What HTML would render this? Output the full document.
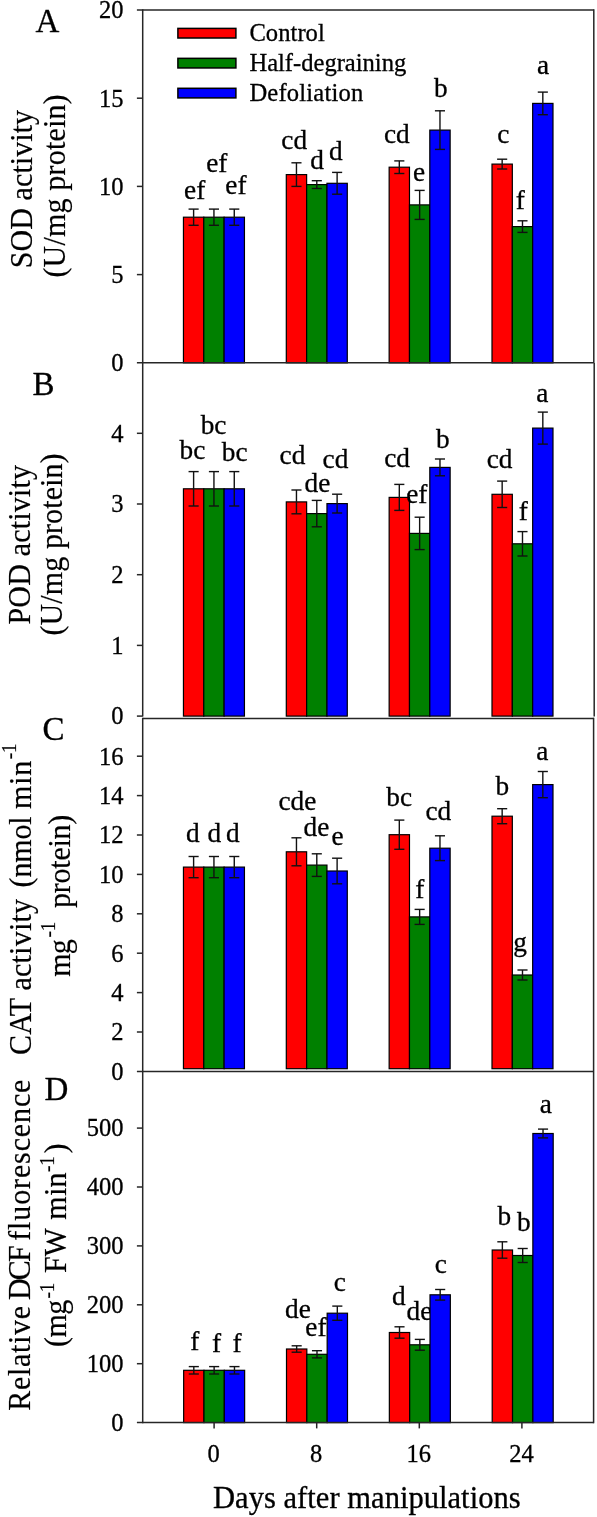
<!DOCTYPE html>
<html lang="en"><head><meta charset="utf-8"><title>Antioxidant enzyme activities and DCF fluorescence</title>
<style>html,body{margin:0;padding:0;background:#fff}svg{display:block}</style></head>
<body>
<svg width="597" height="1517" viewBox="0 0 597 1517" font-family="'Liberation Serif', 'Times New Roman', serif" fill="#000" stroke="#000" stroke-width="0" >
<rect width="597" height="1517" fill="#fff"/>
<g id="panelA">
<rect x="183.45" y="217.20" width="20.33" height="145.60" fill="#ff0000" stroke="#000" stroke-width="1.2"/>
<rect x="203.78" y="217.20" width="20.33" height="145.60" fill="#008000" stroke="#000" stroke-width="1.2"/>
<rect x="286.30" y="174.60" width="20.33" height="188.20" fill="#ff0000" stroke="#000" stroke-width="1.2"/>
<rect x="306.63" y="184.60" width="20.33" height="178.20" fill="#008000" stroke="#000" stroke-width="1.2"/>
<rect x="389.15" y="167.20" width="20.33" height="195.60" fill="#ff0000" stroke="#000" stroke-width="1.2"/>
<rect x="409.48" y="204.90" width="20.33" height="157.90" fill="#008000" stroke="#000" stroke-width="1.2"/>
<rect x="492.00" y="164.10" width="20.33" height="198.70" fill="#ff0000" stroke="#000" stroke-width="1.2"/>
<rect x="512.33" y="226.60" width="20.33" height="136.20" fill="#008000" stroke="#000" stroke-width="1.2"/>
<line x1="193.61" y1="209.10" x2="193.61" y2="225.30" stroke="#111" stroke-width="1.4" stroke-linecap="butt"/>
<line x1="188.56" y1="209.10" x2="198.66" y2="209.10" stroke="#111" stroke-width="1.4" stroke-linecap="butt"/>
<line x1="188.56" y1="225.30" x2="198.66" y2="225.30" stroke="#111" stroke-width="1.4" stroke-linecap="butt"/>
<line x1="213.94" y1="209.10" x2="213.94" y2="225.30" stroke="#111" stroke-width="1.4" stroke-linecap="butt"/>
<line x1="208.89" y1="209.10" x2="218.99" y2="209.10" stroke="#111" stroke-width="1.4" stroke-linecap="butt"/>
<line x1="208.89" y1="225.30" x2="218.99" y2="225.30" stroke="#111" stroke-width="1.4" stroke-linecap="butt"/>
<line x1="296.46" y1="162.80" x2="296.46" y2="186.40" stroke="#111" stroke-width="1.4" stroke-linecap="butt"/>
<line x1="291.41" y1="162.80" x2="301.51" y2="162.80" stroke="#111" stroke-width="1.4" stroke-linecap="butt"/>
<line x1="291.41" y1="186.40" x2="301.51" y2="186.40" stroke="#111" stroke-width="1.4" stroke-linecap="butt"/>
<line x1="316.79" y1="180.70" x2="316.79" y2="188.50" stroke="#111" stroke-width="1.4" stroke-linecap="butt"/>
<line x1="311.74" y1="180.70" x2="321.84" y2="180.70" stroke="#111" stroke-width="1.4" stroke-linecap="butt"/>
<line x1="311.74" y1="188.50" x2="321.84" y2="188.50" stroke="#111" stroke-width="1.4" stroke-linecap="butt"/>
<line x1="399.31" y1="160.90" x2="399.31" y2="173.50" stroke="#111" stroke-width="1.4" stroke-linecap="butt"/>
<line x1="394.26" y1="160.90" x2="404.37" y2="160.90" stroke="#111" stroke-width="1.4" stroke-linecap="butt"/>
<line x1="394.26" y1="173.50" x2="404.37" y2="173.50" stroke="#111" stroke-width="1.4" stroke-linecap="butt"/>
<line x1="419.64" y1="190.40" x2="419.64" y2="219.40" stroke="#111" stroke-width="1.4" stroke-linecap="butt"/>
<line x1="414.59" y1="190.40" x2="424.69" y2="190.40" stroke="#111" stroke-width="1.4" stroke-linecap="butt"/>
<line x1="414.59" y1="219.40" x2="424.69" y2="219.40" stroke="#111" stroke-width="1.4" stroke-linecap="butt"/>
<line x1="502.16" y1="159.20" x2="502.16" y2="169.00" stroke="#111" stroke-width="1.4" stroke-linecap="butt"/>
<line x1="497.11" y1="159.20" x2="507.21" y2="159.20" stroke="#111" stroke-width="1.4" stroke-linecap="butt"/>
<line x1="497.11" y1="169.00" x2="507.21" y2="169.00" stroke="#111" stroke-width="1.4" stroke-linecap="butt"/>
<line x1="522.49" y1="220.80" x2="522.49" y2="232.40" stroke="#111" stroke-width="1.4" stroke-linecap="butt"/>
<line x1="517.44" y1="220.80" x2="527.54" y2="220.80" stroke="#111" stroke-width="1.4" stroke-linecap="butt"/>
<line x1="517.44" y1="232.40" x2="527.54" y2="232.40" stroke="#111" stroke-width="1.4" stroke-linecap="butt"/>
<text x="194.67" y="199.20" font-size="27.3" text-anchor="middle" stroke-width="0.3">ef</text>
<text x="216.77" y="172.40" font-size="27.3" text-anchor="middle" stroke-width="0.3">ef</text>
<text x="235.97" y="193.80" font-size="27.3" text-anchor="middle" stroke-width="0.3">ef</text>
<text x="294.15" y="149.00" font-size="27.3" text-anchor="middle" stroke-width="0.3">cd</text>
<text x="317.17" y="168.70" font-size="27.3" text-anchor="middle" stroke-width="0.3">d</text>
<text x="335.87" y="159.90" font-size="27.3" text-anchor="middle" stroke-width="0.3">d</text>
<text x="396.85" y="143.10" font-size="27.3" text-anchor="middle" stroke-width="0.3">cd</text>
<text x="418.94" y="181.30" font-size="27.3" text-anchor="middle" stroke-width="0.3">e</text>
<text x="440.82" y="96.70" font-size="27.3" text-anchor="middle" stroke-width="0.3">b</text>
<text x="503.40" y="143.30" font-size="27.3" text-anchor="middle" stroke-width="0.3">c</text>
<text x="520.18" y="208.70" font-size="27.3" text-anchor="middle" stroke-width="0.3">f</text>
<text x="543.01" y="74.20" font-size="27.3" text-anchor="middle" stroke-width="0.3">a</text>
<rect x="224.11" y="217.20" width="20.33" height="145.60" fill="#0000ff" stroke="#000" stroke-width="1.2"/>
<rect x="326.96" y="183.30" width="20.33" height="179.50" fill="#0000ff" stroke="#000" stroke-width="1.2"/>
<rect x="429.81" y="130.10" width="20.33" height="232.70" fill="#0000ff" stroke="#000" stroke-width="1.2"/>
<rect x="532.66" y="103.40" width="20.33" height="259.40" fill="#0000ff" stroke="#000" stroke-width="1.2"/>
<line x1="234.27" y1="209.10" x2="234.27" y2="225.30" stroke="#111" stroke-width="1.4" stroke-linecap="butt"/>
<line x1="229.22" y1="209.10" x2="239.32" y2="209.10" stroke="#111" stroke-width="1.4" stroke-linecap="butt"/>
<line x1="229.22" y1="225.30" x2="239.32" y2="225.30" stroke="#111" stroke-width="1.4" stroke-linecap="butt"/>
<line x1="337.12" y1="172.40" x2="337.12" y2="194.20" stroke="#111" stroke-width="1.4" stroke-linecap="butt"/>
<line x1="332.07" y1="172.40" x2="342.17" y2="172.40" stroke="#111" stroke-width="1.4" stroke-linecap="butt"/>
<line x1="332.07" y1="194.20" x2="342.17" y2="194.20" stroke="#111" stroke-width="1.4" stroke-linecap="butt"/>
<line x1="439.97" y1="110.80" x2="439.97" y2="149.40" stroke="#111" stroke-width="1.4" stroke-linecap="butt"/>
<line x1="434.92" y1="110.80" x2="445.02" y2="110.80" stroke="#111" stroke-width="1.4" stroke-linecap="butt"/>
<line x1="434.92" y1="149.40" x2="445.02" y2="149.40" stroke="#111" stroke-width="1.4" stroke-linecap="butt"/>
<line x1="542.82" y1="92.10" x2="542.82" y2="114.70" stroke="#111" stroke-width="1.4" stroke-linecap="butt"/>
<line x1="537.77" y1="92.10" x2="547.87" y2="92.10" stroke="#111" stroke-width="1.4" stroke-linecap="butt"/>
<line x1="537.77" y1="114.70" x2="547.87" y2="114.70" stroke="#111" stroke-width="1.4" stroke-linecap="butt"/>
</g>
<g id="panelB">
<rect x="183.45" y="488.80" width="20.33" height="227.30" fill="#ff0000" stroke="#000" stroke-width="1.2"/>
<rect x="203.78" y="488.80" width="20.33" height="227.30" fill="#008000" stroke="#000" stroke-width="1.2"/>
<rect x="286.30" y="501.90" width="20.33" height="214.20" fill="#ff0000" stroke="#000" stroke-width="1.2"/>
<rect x="306.63" y="513.60" width="20.33" height="202.50" fill="#008000" stroke="#000" stroke-width="1.2"/>
<rect x="389.15" y="497.40" width="20.33" height="218.70" fill="#ff0000" stroke="#000" stroke-width="1.2"/>
<rect x="409.48" y="533.40" width="20.33" height="182.70" fill="#008000" stroke="#000" stroke-width="1.2"/>
<rect x="492.00" y="494.30" width="20.33" height="221.80" fill="#ff0000" stroke="#000" stroke-width="1.2"/>
<rect x="512.33" y="543.80" width="20.33" height="172.30" fill="#008000" stroke="#000" stroke-width="1.2"/>
<line x1="193.61" y1="471.60" x2="193.61" y2="506.00" stroke="#111" stroke-width="1.4" stroke-linecap="butt"/>
<line x1="188.56" y1="471.60" x2="198.66" y2="471.60" stroke="#111" stroke-width="1.4" stroke-linecap="butt"/>
<line x1="188.56" y1="506.00" x2="198.66" y2="506.00" stroke="#111" stroke-width="1.4" stroke-linecap="butt"/>
<line x1="213.94" y1="471.60" x2="213.94" y2="506.00" stroke="#111" stroke-width="1.4" stroke-linecap="butt"/>
<line x1="208.89" y1="471.60" x2="218.99" y2="471.60" stroke="#111" stroke-width="1.4" stroke-linecap="butt"/>
<line x1="208.89" y1="506.00" x2="218.99" y2="506.00" stroke="#111" stroke-width="1.4" stroke-linecap="butt"/>
<line x1="296.46" y1="490.00" x2="296.46" y2="513.80" stroke="#111" stroke-width="1.4" stroke-linecap="butt"/>
<line x1="291.41" y1="490.00" x2="301.51" y2="490.00" stroke="#111" stroke-width="1.4" stroke-linecap="butt"/>
<line x1="291.41" y1="513.80" x2="301.51" y2="513.80" stroke="#111" stroke-width="1.4" stroke-linecap="butt"/>
<line x1="316.79" y1="500.40" x2="316.79" y2="526.80" stroke="#111" stroke-width="1.4" stroke-linecap="butt"/>
<line x1="311.74" y1="500.40" x2="321.84" y2="500.40" stroke="#111" stroke-width="1.4" stroke-linecap="butt"/>
<line x1="311.74" y1="526.80" x2="321.84" y2="526.80" stroke="#111" stroke-width="1.4" stroke-linecap="butt"/>
<line x1="399.31" y1="484.40" x2="399.31" y2="510.40" stroke="#111" stroke-width="1.4" stroke-linecap="butt"/>
<line x1="394.26" y1="484.40" x2="404.37" y2="484.40" stroke="#111" stroke-width="1.4" stroke-linecap="butt"/>
<line x1="394.26" y1="510.40" x2="404.37" y2="510.40" stroke="#111" stroke-width="1.4" stroke-linecap="butt"/>
<line x1="419.64" y1="517.20" x2="419.64" y2="549.60" stroke="#111" stroke-width="1.4" stroke-linecap="butt"/>
<line x1="414.59" y1="517.20" x2="424.69" y2="517.20" stroke="#111" stroke-width="1.4" stroke-linecap="butt"/>
<line x1="414.59" y1="549.60" x2="424.69" y2="549.60" stroke="#111" stroke-width="1.4" stroke-linecap="butt"/>
<line x1="502.16" y1="481.10" x2="502.16" y2="507.50" stroke="#111" stroke-width="1.4" stroke-linecap="butt"/>
<line x1="497.11" y1="481.10" x2="507.21" y2="481.10" stroke="#111" stroke-width="1.4" stroke-linecap="butt"/>
<line x1="497.11" y1="507.50" x2="507.21" y2="507.50" stroke="#111" stroke-width="1.4" stroke-linecap="butt"/>
<line x1="522.49" y1="531.60" x2="522.49" y2="556.00" stroke="#111" stroke-width="1.4" stroke-linecap="butt"/>
<line x1="517.44" y1="531.60" x2="527.54" y2="531.60" stroke="#111" stroke-width="1.4" stroke-linecap="butt"/>
<line x1="517.44" y1="556.00" x2="527.54" y2="556.00" stroke="#111" stroke-width="1.4" stroke-linecap="butt"/>
<text x="192.42" y="459.00" font-size="27.3" text-anchor="middle" stroke-width="0.3">bc</text>
<text x="213.52" y="433.90" font-size="27.3" text-anchor="middle" stroke-width="0.3">bc</text>
<text x="234.62" y="460.70" font-size="27.3" text-anchor="middle" stroke-width="0.3">bc</text>
<text x="292.45" y="464.30" font-size="27.3" text-anchor="middle" stroke-width="0.3">cd</text>
<text x="317.38" y="492.40" font-size="27.3" text-anchor="middle" stroke-width="0.3">de</text>
<text x="335.45" y="467.70" font-size="27.3" text-anchor="middle" stroke-width="0.3">cd</text>
<text x="397.05" y="467.30" font-size="27.3" text-anchor="middle" stroke-width="0.3">cd</text>
<text x="416.87" y="502.50" font-size="27.3" text-anchor="middle" stroke-width="0.3">ef</text>
<text x="442.72" y="447.60" font-size="27.3" text-anchor="middle" stroke-width="0.3">b</text>
<text x="499.55" y="467.50" font-size="27.3" text-anchor="middle" stroke-width="0.3">cd</text>
<text x="523.18" y="520.30" font-size="27.3" text-anchor="middle" stroke-width="0.3">f</text>
<text x="542.41" y="401.70" font-size="27.3" text-anchor="middle" stroke-width="0.3">a</text>
<rect x="224.11" y="488.80" width="20.33" height="227.30" fill="#0000ff" stroke="#000" stroke-width="1.2"/>
<rect x="326.96" y="503.60" width="20.33" height="212.50" fill="#0000ff" stroke="#000" stroke-width="1.2"/>
<rect x="429.81" y="467.40" width="20.33" height="248.70" fill="#0000ff" stroke="#000" stroke-width="1.2"/>
<rect x="532.66" y="428.10" width="20.33" height="288.00" fill="#0000ff" stroke="#000" stroke-width="1.2"/>
<line x1="234.27" y1="471.60" x2="234.27" y2="506.00" stroke="#111" stroke-width="1.4" stroke-linecap="butt"/>
<line x1="229.22" y1="471.60" x2="239.32" y2="471.60" stroke="#111" stroke-width="1.4" stroke-linecap="butt"/>
<line x1="229.22" y1="506.00" x2="239.32" y2="506.00" stroke="#111" stroke-width="1.4" stroke-linecap="butt"/>
<line x1="337.12" y1="494.20" x2="337.12" y2="513.00" stroke="#111" stroke-width="1.4" stroke-linecap="butt"/>
<line x1="332.07" y1="494.20" x2="342.17" y2="494.20" stroke="#111" stroke-width="1.4" stroke-linecap="butt"/>
<line x1="332.07" y1="513.00" x2="342.17" y2="513.00" stroke="#111" stroke-width="1.4" stroke-linecap="butt"/>
<line x1="439.97" y1="459.00" x2="439.97" y2="475.80" stroke="#111" stroke-width="1.4" stroke-linecap="butt"/>
<line x1="434.92" y1="459.00" x2="445.02" y2="459.00" stroke="#111" stroke-width="1.4" stroke-linecap="butt"/>
<line x1="434.92" y1="475.80" x2="445.02" y2="475.80" stroke="#111" stroke-width="1.4" stroke-linecap="butt"/>
<line x1="542.82" y1="412.10" x2="542.82" y2="444.10" stroke="#111" stroke-width="1.4" stroke-linecap="butt"/>
<line x1="537.77" y1="412.10" x2="547.87" y2="412.10" stroke="#111" stroke-width="1.4" stroke-linecap="butt"/>
<line x1="537.77" y1="444.10" x2="547.87" y2="444.10" stroke="#111" stroke-width="1.4" stroke-linecap="butt"/>
</g>
<g id="panelC">
<rect x="183.45" y="867.10" width="20.33" height="201.60" fill="#ff0000" stroke="#000" stroke-width="1.2"/>
<rect x="203.78" y="867.10" width="20.33" height="201.60" fill="#008000" stroke="#000" stroke-width="1.2"/>
<rect x="286.30" y="851.80" width="20.33" height="216.90" fill="#ff0000" stroke="#000" stroke-width="1.2"/>
<rect x="306.63" y="865.10" width="20.33" height="203.60" fill="#008000" stroke="#000" stroke-width="1.2"/>
<rect x="389.15" y="834.70" width="20.33" height="234.00" fill="#ff0000" stroke="#000" stroke-width="1.2"/>
<rect x="409.48" y="916.90" width="20.33" height="151.80" fill="#008000" stroke="#000" stroke-width="1.2"/>
<rect x="492.00" y="816.20" width="20.33" height="252.50" fill="#ff0000" stroke="#000" stroke-width="1.2"/>
<rect x="512.33" y="975.00" width="20.33" height="93.70" fill="#008000" stroke="#000" stroke-width="1.2"/>
<line x1="193.61" y1="856.50" x2="193.61" y2="877.70" stroke="#111" stroke-width="1.4" stroke-linecap="butt"/>
<line x1="188.56" y1="856.50" x2="198.66" y2="856.50" stroke="#111" stroke-width="1.4" stroke-linecap="butt"/>
<line x1="188.56" y1="877.70" x2="198.66" y2="877.70" stroke="#111" stroke-width="1.4" stroke-linecap="butt"/>
<line x1="213.94" y1="856.50" x2="213.94" y2="877.70" stroke="#111" stroke-width="1.4" stroke-linecap="butt"/>
<line x1="208.89" y1="856.50" x2="218.99" y2="856.50" stroke="#111" stroke-width="1.4" stroke-linecap="butt"/>
<line x1="208.89" y1="877.70" x2="218.99" y2="877.70" stroke="#111" stroke-width="1.4" stroke-linecap="butt"/>
<line x1="296.46" y1="837.80" x2="296.46" y2="865.80" stroke="#111" stroke-width="1.4" stroke-linecap="butt"/>
<line x1="291.41" y1="837.80" x2="301.51" y2="837.80" stroke="#111" stroke-width="1.4" stroke-linecap="butt"/>
<line x1="291.41" y1="865.80" x2="301.51" y2="865.80" stroke="#111" stroke-width="1.4" stroke-linecap="butt"/>
<line x1="316.79" y1="853.80" x2="316.79" y2="876.40" stroke="#111" stroke-width="1.4" stroke-linecap="butt"/>
<line x1="311.74" y1="853.80" x2="321.84" y2="853.80" stroke="#111" stroke-width="1.4" stroke-linecap="butt"/>
<line x1="311.74" y1="876.40" x2="321.84" y2="876.40" stroke="#111" stroke-width="1.4" stroke-linecap="butt"/>
<line x1="399.31" y1="820.10" x2="399.31" y2="849.30" stroke="#111" stroke-width="1.4" stroke-linecap="butt"/>
<line x1="394.26" y1="820.10" x2="404.37" y2="820.10" stroke="#111" stroke-width="1.4" stroke-linecap="butt"/>
<line x1="394.26" y1="849.30" x2="404.37" y2="849.30" stroke="#111" stroke-width="1.4" stroke-linecap="butt"/>
<line x1="419.64" y1="909.40" x2="419.64" y2="924.40" stroke="#111" stroke-width="1.4" stroke-linecap="butt"/>
<line x1="414.59" y1="909.40" x2="424.69" y2="909.40" stroke="#111" stroke-width="1.4" stroke-linecap="butt"/>
<line x1="414.59" y1="924.40" x2="424.69" y2="924.40" stroke="#111" stroke-width="1.4" stroke-linecap="butt"/>
<line x1="502.16" y1="808.70" x2="502.16" y2="823.70" stroke="#111" stroke-width="1.4" stroke-linecap="butt"/>
<line x1="497.11" y1="808.70" x2="507.21" y2="808.70" stroke="#111" stroke-width="1.4" stroke-linecap="butt"/>
<line x1="497.11" y1="823.70" x2="507.21" y2="823.70" stroke="#111" stroke-width="1.4" stroke-linecap="butt"/>
<line x1="522.49" y1="970.00" x2="522.49" y2="980.00" stroke="#111" stroke-width="1.4" stroke-linecap="butt"/>
<line x1="517.44" y1="970.00" x2="527.54" y2="970.00" stroke="#111" stroke-width="1.4" stroke-linecap="butt"/>
<line x1="517.44" y1="980.00" x2="527.54" y2="980.00" stroke="#111" stroke-width="1.4" stroke-linecap="butt"/>
<text x="192.77" y="842.30" font-size="27.3" text-anchor="middle" stroke-width="0.3">d</text>
<text x="214.27" y="842.30" font-size="27.3" text-anchor="middle" stroke-width="0.3">d</text>
<text x="232.77" y="842.30" font-size="27.3" text-anchor="middle" stroke-width="0.3">d</text>
<text x="297.35" y="809.70" font-size="27.3" text-anchor="middle" stroke-width="0.3">cde</text>
<text x="316.48" y="835.70" font-size="27.3" text-anchor="middle" stroke-width="0.3">de</text>
<text x="337.44" y="845.20" font-size="27.3" text-anchor="middle" stroke-width="0.3">e</text>
<text x="399.12" y="806.30" font-size="27.3" text-anchor="middle" stroke-width="0.3">bc</text>
<text x="419.78" y="898.10" font-size="27.3" text-anchor="middle" stroke-width="0.3">f</text>
<text x="438.35" y="820.20" font-size="27.3" text-anchor="middle" stroke-width="0.3">cd</text>
<text x="502.32" y="795.00" font-size="27.3" text-anchor="middle" stroke-width="0.3">b</text>
<text x="520.17" y="951.10" font-size="27.3" text-anchor="middle" stroke-width="0.3">g</text>
<text x="542.31" y="760.20" font-size="27.3" text-anchor="middle" stroke-width="0.3">a</text>
<rect x="224.11" y="867.10" width="20.33" height="201.60" fill="#0000ff" stroke="#000" stroke-width="1.2"/>
<rect x="326.96" y="871.00" width="20.33" height="197.70" fill="#0000ff" stroke="#000" stroke-width="1.2"/>
<rect x="429.81" y="848.20" width="20.33" height="220.50" fill="#0000ff" stroke="#000" stroke-width="1.2"/>
<rect x="532.66" y="784.60" width="20.33" height="284.10" fill="#0000ff" stroke="#000" stroke-width="1.2"/>
<line x1="234.27" y1="856.50" x2="234.27" y2="877.70" stroke="#111" stroke-width="1.4" stroke-linecap="butt"/>
<line x1="229.22" y1="856.50" x2="239.32" y2="856.50" stroke="#111" stroke-width="1.4" stroke-linecap="butt"/>
<line x1="229.22" y1="877.70" x2="239.32" y2="877.70" stroke="#111" stroke-width="1.4" stroke-linecap="butt"/>
<line x1="337.12" y1="858.20" x2="337.12" y2="883.80" stroke="#111" stroke-width="1.4" stroke-linecap="butt"/>
<line x1="332.07" y1="858.20" x2="342.17" y2="858.20" stroke="#111" stroke-width="1.4" stroke-linecap="butt"/>
<line x1="332.07" y1="883.80" x2="342.17" y2="883.80" stroke="#111" stroke-width="1.4" stroke-linecap="butt"/>
<line x1="439.97" y1="835.80" x2="439.97" y2="860.60" stroke="#111" stroke-width="1.4" stroke-linecap="butt"/>
<line x1="434.92" y1="835.80" x2="445.02" y2="835.80" stroke="#111" stroke-width="1.4" stroke-linecap="butt"/>
<line x1="434.92" y1="860.60" x2="445.02" y2="860.60" stroke="#111" stroke-width="1.4" stroke-linecap="butt"/>
<line x1="542.82" y1="771.50" x2="542.82" y2="797.70" stroke="#111" stroke-width="1.4" stroke-linecap="butt"/>
<line x1="537.77" y1="771.50" x2="547.87" y2="771.50" stroke="#111" stroke-width="1.4" stroke-linecap="butt"/>
<line x1="537.77" y1="797.70" x2="547.87" y2="797.70" stroke="#111" stroke-width="1.4" stroke-linecap="butt"/>
</g>
<g id="panelD">
<rect x="183.65" y="1370.30" width="20.33" height="52.30" fill="#ff0000" stroke="#000" stroke-width="1.2"/>
<rect x="203.98" y="1370.30" width="20.33" height="52.30" fill="#008000" stroke="#000" stroke-width="1.2"/>
<rect x="286.50" y="1349.00" width="20.33" height="73.60" fill="#ff0000" stroke="#000" stroke-width="1.2"/>
<rect x="306.83" y="1354.30" width="20.33" height="68.30" fill="#008000" stroke="#000" stroke-width="1.2"/>
<rect x="389.35" y="1332.50" width="20.33" height="90.10" fill="#ff0000" stroke="#000" stroke-width="1.2"/>
<rect x="409.68" y="1344.80" width="20.33" height="77.80" fill="#008000" stroke="#000" stroke-width="1.2"/>
<rect x="492.20" y="1250.00" width="20.33" height="172.60" fill="#ff0000" stroke="#000" stroke-width="1.2"/>
<rect x="512.53" y="1255.50" width="20.33" height="167.10" fill="#008000" stroke="#000" stroke-width="1.2"/>
<line x1="193.81" y1="1366.60" x2="193.81" y2="1374.00" stroke="#111" stroke-width="1.4" stroke-linecap="butt"/>
<line x1="188.76" y1="1366.60" x2="198.86" y2="1366.60" stroke="#111" stroke-width="1.4" stroke-linecap="butt"/>
<line x1="188.76" y1="1374.00" x2="198.86" y2="1374.00" stroke="#111" stroke-width="1.4" stroke-linecap="butt"/>
<line x1="214.14" y1="1366.60" x2="214.14" y2="1374.00" stroke="#111" stroke-width="1.4" stroke-linecap="butt"/>
<line x1="209.09" y1="1366.60" x2="219.19" y2="1366.60" stroke="#111" stroke-width="1.4" stroke-linecap="butt"/>
<line x1="209.09" y1="1374.00" x2="219.19" y2="1374.00" stroke="#111" stroke-width="1.4" stroke-linecap="butt"/>
<line x1="296.66" y1="1345.80" x2="296.66" y2="1352.20" stroke="#111" stroke-width="1.4" stroke-linecap="butt"/>
<line x1="291.61" y1="1345.80" x2="301.71" y2="1345.80" stroke="#111" stroke-width="1.4" stroke-linecap="butt"/>
<line x1="291.61" y1="1352.20" x2="301.71" y2="1352.20" stroke="#111" stroke-width="1.4" stroke-linecap="butt"/>
<line x1="316.99" y1="1350.70" x2="316.99" y2="1357.90" stroke="#111" stroke-width="1.4" stroke-linecap="butt"/>
<line x1="311.94" y1="1350.70" x2="322.04" y2="1350.70" stroke="#111" stroke-width="1.4" stroke-linecap="butt"/>
<line x1="311.94" y1="1357.90" x2="322.04" y2="1357.90" stroke="#111" stroke-width="1.4" stroke-linecap="butt"/>
<line x1="399.51" y1="1326.80" x2="399.51" y2="1338.20" stroke="#111" stroke-width="1.4" stroke-linecap="butt"/>
<line x1="394.46" y1="1326.80" x2="404.56" y2="1326.80" stroke="#111" stroke-width="1.4" stroke-linecap="butt"/>
<line x1="394.46" y1="1338.20" x2="404.56" y2="1338.20" stroke="#111" stroke-width="1.4" stroke-linecap="butt"/>
<line x1="419.84" y1="1339.40" x2="419.84" y2="1350.20" stroke="#111" stroke-width="1.4" stroke-linecap="butt"/>
<line x1="414.79" y1="1339.40" x2="424.89" y2="1339.40" stroke="#111" stroke-width="1.4" stroke-linecap="butt"/>
<line x1="414.79" y1="1350.20" x2="424.89" y2="1350.20" stroke="#111" stroke-width="1.4" stroke-linecap="butt"/>
<line x1="502.36" y1="1241.80" x2="502.36" y2="1258.20" stroke="#111" stroke-width="1.4" stroke-linecap="butt"/>
<line x1="497.31" y1="1241.80" x2="507.41" y2="1241.80" stroke="#111" stroke-width="1.4" stroke-linecap="butt"/>
<line x1="497.31" y1="1258.20" x2="507.41" y2="1258.20" stroke="#111" stroke-width="1.4" stroke-linecap="butt"/>
<line x1="522.69" y1="1248.50" x2="522.69" y2="1262.50" stroke="#111" stroke-width="1.4" stroke-linecap="butt"/>
<line x1="517.64" y1="1248.50" x2="527.74" y2="1248.50" stroke="#111" stroke-width="1.4" stroke-linecap="butt"/>
<line x1="517.64" y1="1262.50" x2="527.74" y2="1262.50" stroke="#111" stroke-width="1.4" stroke-linecap="butt"/>
<text x="194.78" y="1350.10" font-size="27.3" text-anchor="middle" stroke-width="0.3">f</text>
<text x="216.48" y="1351.80" font-size="27.3" text-anchor="middle" stroke-width="0.3">f</text>
<text x="236.98" y="1351.80" font-size="27.3" text-anchor="middle" stroke-width="0.3">f</text>
<text x="297.98" y="1318.00" font-size="27.3" text-anchor="middle" stroke-width="0.3">de</text>
<text x="315.97" y="1336.10" font-size="27.3" text-anchor="middle" stroke-width="0.3">ef</text>
<text x="339.90" y="1290.90" font-size="27.3" text-anchor="middle" stroke-width="0.3">c</text>
<text x="398.77" y="1304.90" font-size="27.3" text-anchor="middle" stroke-width="0.3">d</text>
<text x="419.38" y="1320.30" font-size="27.3" text-anchor="middle" stroke-width="0.3">de</text>
<text x="440.70" y="1273.00" font-size="27.3" text-anchor="middle" stroke-width="0.3">c</text>
<text x="504.42" y="1224.80" font-size="27.3" text-anchor="middle" stroke-width="0.3">b</text>
<text x="523.72" y="1230.60" font-size="27.3" text-anchor="middle" stroke-width="0.3">b</text>
<text x="545.71" y="1113.40" font-size="27.3" text-anchor="middle" stroke-width="0.3">a</text>
<rect x="224.31" y="1370.30" width="20.33" height="52.30" fill="#0000ff" stroke="#000" stroke-width="1.2"/>
<rect x="327.16" y="1313.20" width="20.33" height="109.40" fill="#0000ff" stroke="#000" stroke-width="1.2"/>
<rect x="430.01" y="1294.80" width="20.33" height="127.80" fill="#0000ff" stroke="#000" stroke-width="1.2"/>
<rect x="532.86" y="1133.50" width="20.33" height="289.10" fill="#0000ff" stroke="#000" stroke-width="1.2"/>
<line x1="234.47" y1="1366.60" x2="234.47" y2="1374.00" stroke="#111" stroke-width="1.4" stroke-linecap="butt"/>
<line x1="229.42" y1="1366.60" x2="239.52" y2="1366.60" stroke="#111" stroke-width="1.4" stroke-linecap="butt"/>
<line x1="229.42" y1="1374.00" x2="239.52" y2="1374.00" stroke="#111" stroke-width="1.4" stroke-linecap="butt"/>
<line x1="337.32" y1="1306.10" x2="337.32" y2="1320.30" stroke="#111" stroke-width="1.4" stroke-linecap="butt"/>
<line x1="332.27" y1="1306.10" x2="342.37" y2="1306.10" stroke="#111" stroke-width="1.4" stroke-linecap="butt"/>
<line x1="332.27" y1="1320.30" x2="342.37" y2="1320.30" stroke="#111" stroke-width="1.4" stroke-linecap="butt"/>
<line x1="440.17" y1="1289.50" x2="440.17" y2="1300.10" stroke="#111" stroke-width="1.4" stroke-linecap="butt"/>
<line x1="435.12" y1="1289.50" x2="445.22" y2="1289.50" stroke="#111" stroke-width="1.4" stroke-linecap="butt"/>
<line x1="435.12" y1="1300.10" x2="445.22" y2="1300.10" stroke="#111" stroke-width="1.4" stroke-linecap="butt"/>
<line x1="543.02" y1="1129.10" x2="543.02" y2="1137.90" stroke="#111" stroke-width="1.4" stroke-linecap="butt"/>
<line x1="537.98" y1="1129.10" x2="548.07" y2="1129.10" stroke="#111" stroke-width="1.4" stroke-linecap="butt"/>
<line x1="537.98" y1="1137.90" x2="548.07" y2="1137.90" stroke="#111" stroke-width="1.4" stroke-linecap="butt"/>
</g>
<g id="axes">
<line x1="142.70" y1="9.25" x2="142.70" y2="716.60" stroke="#262626" stroke-width="1.5" stroke-linecap="butt"/>
<line x1="142.70" y1="10.00" x2="593.80" y2="10.00" stroke="#262626" stroke-width="1.5" stroke-linecap="butt"/>
<line x1="593.80" y1="9.25" x2="593.80" y2="363.00" stroke="#262626" stroke-width="1.5" stroke-linecap="butt"/>
<line x1="594.20" y1="363.00" x2="594.20" y2="716.40" stroke="#262626" stroke-width="1.5" stroke-linecap="butt"/>
<line x1="136.90" y1="362.80" x2="593.80" y2="362.80" stroke="#262626" stroke-width="1.5" stroke-linecap="butt"/>
<line x1="142.70" y1="717.85" x2="142.70" y2="1423.35" stroke="#262626" stroke-width="1.5" stroke-linecap="butt"/>
<line x1="142.70" y1="718.60" x2="593.80" y2="718.60" stroke="#262626" stroke-width="1.5" stroke-linecap="butt"/>
<line x1="593.60" y1="717.85" x2="593.60" y2="1423.35" stroke="#262626" stroke-width="1.5" stroke-linecap="butt"/>
<line x1="136.90" y1="1071.40" x2="593.80" y2="1071.40" stroke="#262626" stroke-width="1.5" stroke-linecap="butt"/>
<line x1="136.90" y1="1422.60" x2="593.80" y2="1422.60" stroke="#262626" stroke-width="1.5" stroke-linecap="butt"/>
<text x="123.50" y="371.10" font-size="24.5" text-anchor="end" stroke-width="0.3">0</text>
<line x1="136.90" y1="274.60" x2="142.70" y2="274.60" stroke="#262626" stroke-width="1.5" stroke-linecap="butt"/>
<text x="123.50" y="282.90" font-size="24.5" text-anchor="end" stroke-width="0.3">5</text>
<line x1="136.90" y1="186.40" x2="142.70" y2="186.40" stroke="#262626" stroke-width="1.5" stroke-linecap="butt"/>
<text x="123.50" y="194.70" font-size="24.5" text-anchor="end" stroke-width="0.3">10</text>
<line x1="136.90" y1="98.20" x2="142.70" y2="98.20" stroke="#262626" stroke-width="1.5" stroke-linecap="butt"/>
<text x="123.50" y="106.50" font-size="24.5" text-anchor="end" stroke-width="0.3">15</text>
<line x1="136.90" y1="10.00" x2="142.70" y2="10.00" stroke="#262626" stroke-width="1.5" stroke-linecap="butt"/>
<text x="123.50" y="18.30" font-size="24.5" text-anchor="end" stroke-width="0.3">20</text>
<line x1="136.90" y1="716.10" x2="142.70" y2="716.10" stroke="#262626" stroke-width="1.5" stroke-linecap="butt"/>
<text x="123.50" y="724.40" font-size="24.5" text-anchor="end" stroke-width="0.3">0</text>
<line x1="136.90" y1="645.40" x2="142.70" y2="645.40" stroke="#262626" stroke-width="1.5" stroke-linecap="butt"/>
<text x="123.50" y="653.70" font-size="24.5" text-anchor="end" stroke-width="0.3">1</text>
<line x1="136.90" y1="574.70" x2="142.70" y2="574.70" stroke="#262626" stroke-width="1.5" stroke-linecap="butt"/>
<text x="123.50" y="583.00" font-size="24.5" text-anchor="end" stroke-width="0.3">2</text>
<line x1="136.90" y1="504.00" x2="142.70" y2="504.00" stroke="#262626" stroke-width="1.5" stroke-linecap="butt"/>
<text x="123.50" y="512.30" font-size="24.5" text-anchor="end" stroke-width="0.3">3</text>
<line x1="136.90" y1="433.30" x2="142.70" y2="433.30" stroke="#262626" stroke-width="1.5" stroke-linecap="butt"/>
<text x="123.50" y="441.60" font-size="24.5" text-anchor="end" stroke-width="0.3">4</text>
<text x="123.50" y="1079.70" font-size="24.5" text-anchor="end" stroke-width="0.3">0</text>
<line x1="136.90" y1="1032.00" x2="142.70" y2="1032.00" stroke="#262626" stroke-width="1.5" stroke-linecap="butt"/>
<text x="123.50" y="1040.30" font-size="24.5" text-anchor="end" stroke-width="0.3">2</text>
<line x1="136.90" y1="992.60" x2="142.70" y2="992.60" stroke="#262626" stroke-width="1.5" stroke-linecap="butt"/>
<text x="123.50" y="1000.90" font-size="24.5" text-anchor="end" stroke-width="0.3">4</text>
<line x1="136.90" y1="953.20" x2="142.70" y2="953.20" stroke="#262626" stroke-width="1.5" stroke-linecap="butt"/>
<text x="123.50" y="961.50" font-size="24.5" text-anchor="end" stroke-width="0.3">6</text>
<line x1="136.90" y1="913.80" x2="142.70" y2="913.80" stroke="#262626" stroke-width="1.5" stroke-linecap="butt"/>
<text x="123.50" y="922.10" font-size="24.5" text-anchor="end" stroke-width="0.3">8</text>
<line x1="136.90" y1="874.40" x2="142.70" y2="874.40" stroke="#262626" stroke-width="1.5" stroke-linecap="butt"/>
<text x="123.50" y="882.70" font-size="24.5" text-anchor="end" stroke-width="0.3">10</text>
<line x1="136.90" y1="835.00" x2="142.70" y2="835.00" stroke="#262626" stroke-width="1.5" stroke-linecap="butt"/>
<text x="123.50" y="843.30" font-size="24.5" text-anchor="end" stroke-width="0.3">12</text>
<line x1="136.90" y1="795.60" x2="142.70" y2="795.60" stroke="#262626" stroke-width="1.5" stroke-linecap="butt"/>
<text x="123.50" y="803.90" font-size="24.5" text-anchor="end" stroke-width="0.3">14</text>
<line x1="136.90" y1="756.20" x2="142.70" y2="756.20" stroke="#262626" stroke-width="1.5" stroke-linecap="butt"/>
<text x="123.50" y="764.50" font-size="24.5" text-anchor="end" stroke-width="0.3">16</text>
<text x="123.50" y="1430.90" font-size="24.5" text-anchor="end" stroke-width="0.3">0</text>
<line x1="136.90" y1="1363.70" x2="142.70" y2="1363.70" stroke="#262626" stroke-width="1.5" stroke-linecap="butt"/>
<text x="123.50" y="1372.00" font-size="24.5" text-anchor="end" stroke-width="0.3">100</text>
<line x1="136.90" y1="1304.80" x2="142.70" y2="1304.80" stroke="#262626" stroke-width="1.5" stroke-linecap="butt"/>
<text x="123.50" y="1313.10" font-size="24.5" text-anchor="end" stroke-width="0.3">200</text>
<line x1="136.90" y1="1245.90" x2="142.70" y2="1245.90" stroke="#262626" stroke-width="1.5" stroke-linecap="butt"/>
<text x="123.50" y="1254.20" font-size="24.5" text-anchor="end" stroke-width="0.3">300</text>
<line x1="136.90" y1="1187.00" x2="142.70" y2="1187.00" stroke="#262626" stroke-width="1.5" stroke-linecap="butt"/>
<text x="123.50" y="1195.30" font-size="24.5" text-anchor="end" stroke-width="0.3">400</text>
<line x1="136.90" y1="1128.10" x2="142.70" y2="1128.10" stroke="#262626" stroke-width="1.5" stroke-linecap="butt"/>
<text x="123.50" y="1136.40" font-size="24.5" text-anchor="end" stroke-width="0.3">500</text>
<line x1="214.10" y1="1422.60" x2="214.10" y2="1428.40" stroke="#262626" stroke-width="1.5" stroke-linecap="butt"/>
<text x="213.60" y="1462.20" font-size="24.5" text-anchor="middle" stroke-width="0.3">0</text>
<line x1="316.70" y1="1422.60" x2="316.70" y2="1428.40" stroke="#262626" stroke-width="1.5" stroke-linecap="butt"/>
<text x="316.20" y="1462.20" font-size="24.5" text-anchor="middle" stroke-width="0.3">8</text>
<line x1="419.30" y1="1422.60" x2="419.30" y2="1428.40" stroke="#262626" stroke-width="1.5" stroke-linecap="butt"/>
<text x="418.80" y="1462.20" font-size="24.5" text-anchor="middle" stroke-width="0.3">16</text>
<line x1="521.90" y1="1422.60" x2="521.90" y2="1428.40" stroke="#262626" stroke-width="1.5" stroke-linecap="butt"/>
<text x="521.40" y="1462.20" font-size="24.5" text-anchor="middle" stroke-width="0.3">24</text>
</g>
<g id="titles">
<text x="213.00" y="1507.80" font-size="30.5" text-anchor="start" textLength="307.6" lengthAdjust="spacing" stroke-width="0.3">Days after manipulations</text>
<text x="35.60" y="31.70" font-size="33" text-anchor="start" stroke-width="0.3">A</text>
<text x="32.50" y="394.90" font-size="33" text-anchor="start" stroke-width="0.3">B</text>
<text x="42.60" y="740.40" font-size="33" text-anchor="start" stroke-width="0.3">C</text>
<text x="44.60" y="1100.40" font-size="33" text-anchor="start" stroke-width="0.3">D</text>
<text transform="translate(31.50,268.20) rotate(-90) scale(1,1.06)" font-size="30" textLength="158.3" lengthAdjust="spacing" stroke-width="0.18">SOD activity</text>
<text transform="translate(65.30,277.60) rotate(-90) scale(1,1.06)" font-size="30" textLength="183.2" lengthAdjust="spacing" stroke-width="0.18">(U/mg protein)</text>
<text transform="translate(30.20,624.50) rotate(-90) scale(1,1.06)" font-size="30" textLength="159.4" lengthAdjust="spacing" stroke-width="0.18">POD activity</text>
<text transform="translate(62.30,635.60) rotate(-90) scale(1,1.06)" font-size="30" textLength="182.2" lengthAdjust="spacing" stroke-width="0.18">(U/mg protein)</text>
<text transform="translate(31.00,1055.00) rotate(-90) scale(1,1.06)" font-size="30" textLength="156.0" lengthAdjust="spacing" stroke-width="0.18">CAT activity</text>
<text transform="translate(31.00,887.40) rotate(-90) scale(1,1.06)" font-size="30" textLength="71.0" lengthAdjust="spacing" stroke-width="0.18">(nmol</text>
<text transform="translate(31.00,809.00) rotate(-90) scale(1,1.06)" font-size="30" textLength="48.2" lengthAdjust="spacing" stroke-width="0.18">min</text>
<text transform="translate(16.40,759.30) rotate(-90) scale(1,1.06)" font-size="19" stroke-width="0.18">-1</text>
<text transform="translate(69.50,976.80) rotate(-90) scale(1,1.06)" font-size="30" textLength="37.6" lengthAdjust="spacing" stroke-width="0.18">mg</text>
<text transform="translate(54.90,937.50) rotate(-90) scale(1,1.06)" font-size="19" stroke-width="0.18">-1</text>
<text transform="translate(69.50,907.90) rotate(-90) scale(1,1.06)" font-size="30" textLength="93.2" lengthAdjust="spacing" stroke-width="0.18">protein)</text>
<text transform="translate(30.20,1410.80) rotate(-90) scale(1,1.06)" font-size="30" textLength="104.8" lengthAdjust="spacing" stroke-width="0.18">Relative</text>
<text transform="translate(30.20,1300.00) rotate(-90) scale(1,1.06)" font-size="30" textLength="54.6" lengthAdjust="spacing" stroke-width="0.18">DCF</text>
<text transform="translate(30.20,1240.80) rotate(-90) scale(1,1.06)" font-size="30" textLength="161.2" lengthAdjust="spacing" stroke-width="0.18">fluorescence</text>
<text transform="translate(66.20,1347.00) rotate(-90) scale(1,1.06)" font-size="30" textLength="47.2" lengthAdjust="spacing" stroke-width="0.18">(mg</text>
<text transform="translate(53.60,1298.60) rotate(-90) scale(1,1.06)" font-size="19" stroke-width="0.18">-1</text>
<text transform="translate(66.20,1273.00) rotate(-90) scale(1,1.06)" font-size="30" textLength="44.8" lengthAdjust="spacing" stroke-width="0.18">FW</text>
<text transform="translate(66.20,1219.80) rotate(-90) scale(1,1.06)" font-size="30" textLength="47.4" lengthAdjust="spacing" stroke-width="0.18">min</text>
<text transform="translate(53.60,1172.00) rotate(-90) scale(1,1.06)" font-size="19" stroke-width="0.18">-1</text>
<text transform="translate(66.20,1153.40) rotate(-90) scale(1,1.06)" font-size="30" stroke-width="0.18">)</text>
</g>
<g id="legend">
<rect x="177.9" y="28.40" width="58.0" height="9.6" fill="#ff0000" stroke="#000" stroke-width="1.5"/>
<text x="249.40" y="40.60" font-size="24.6" text-anchor="start" textLength="75.4" lengthAdjust="spacing" stroke-width="0.3">Control</text>
<rect x="177.9" y="58.35" width="58.0" height="9.6" fill="#008000" stroke="#000" stroke-width="1.5"/>
<text x="249.40" y="70.90" font-size="24.6" text-anchor="start" textLength="156.8" lengthAdjust="spacing" stroke-width="0.3">Half-degraining</text>
<rect x="177.9" y="88.30" width="58.0" height="9.6" fill="#0000ff" stroke="#000" stroke-width="1.5"/>
<text x="249.40" y="101.20" font-size="24.6" text-anchor="start" textLength="113.8" lengthAdjust="spacing" stroke-width="0.3">Defoliation</text>
</g>
</svg>
</body></html>
